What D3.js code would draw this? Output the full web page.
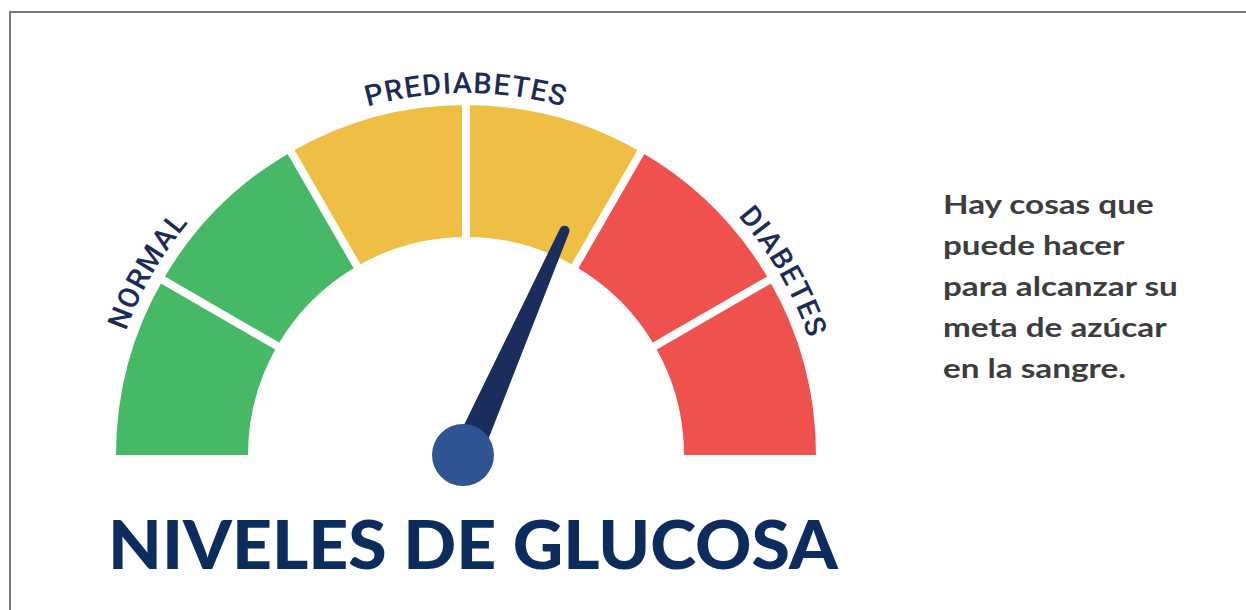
<!DOCTYPE html>
<html>
<head>
<meta charset="utf-8">
<script src="https://cdn.jsdelivr.net/npm/d3@7"></script>
<style>
  html, body { margin: 0; padding: 0; background: #ffffff; }
  svg { display: block; }
</style>
</head>
<body>
<svg id="chart" width="1246" height="610"></svg>
<script>
// ---- data ----
const segments = ["normal1", "normal2", "pre1", "pre2", "diab1", "diab2"];
const segmentColors = ["#47b865", "#47b865", "#efbe44", "#efbe44", "#ef514e", "#ef514e"];
const zoneLabels = ["NORMAL", "PREDIABETES", "DIABETES"];
const zoneCenters = [1, 3, 5];          // in segment units (0..6)
const needleValue = 3.79;               // in segment units (0..6)
const titleText = "NIVELES DE GLUCOSA";
const noteLines = ["Hay cosas que", "puede hacer", "para alcanzar su", "meta de azúcar", "en la sangre."];

// ---- layout ----
const W = 1246, H = 610;
const cx = 466, cy = 455, rOuter = 350, rInner = 218, rLabel = 362;
const svg = d3.select("#chart");

// frame
svg.append("path")
  .attr("d", `M${W},12 L10,12 L10,${H}`)
  .attr("fill", "none").attr("stroke", "#7a7a7a").attr("stroke-width", 2);

const angle = d3.scaleLinear().domain([0, segments.length]).range([-Math.PI / 2, Math.PI / 2]);

const g = svg.append("g").attr("transform", `translate(${cx},${cy})`);
const arc = d3.arc().innerRadius(rInner).outerRadius(rOuter);

g.selectAll("path.seg").data(segments).join("path")
  .attr("class", "seg")
  .attr("d", (d, i) => arc({ startAngle: angle(i), endAngle: angle(i + 1) }))
  .attr("fill", (d, i) => segmentColors[i]);

// white separators between segments
const bounds = d3.range(1, segments.length);
g.selectAll("line.sep").data(bounds).join("line")
  .attr("class", "sep")
  .attr("x1", d => Math.sin(angle(d)) * (rInner - 3))
  .attr("y1", d => -Math.cos(angle(d)) * (rInner - 3))
  .attr("x2", d => Math.sin(angle(d)) * (rOuter + 3))
  .attr("y2", d => -Math.cos(angle(d)) * (rOuter + 3))
  .attr("stroke", "#ffffff").attr("stroke-width", 8);

// label path
g.append("path").attr("id", "labelArc")
  .attr("d", `M${-rLabel},0 A${rLabel},${rLabel} 0 0 1 ${rLabel},0`)
  .attr("fill", "none");

g.selectAll("text.zone").data(zoneLabels).join("text")
  .attr("class", "zone")
  .attr("font-family", "Roboto, 'Noto Sans', sans-serif")
  .attr("font-weight", 500)
  .attr("font-size", 29)
  .attr("letter-spacing", 1.2)
  .attr("fill", "#1c2c58")
  .append("textPath")
  .attr("href", "#labelArc")
  .attr("startOffset", (d, i) => (zoneCenters[i] / segments.length * 100) + "%")
  .attr("text-anchor", "middle")
  .text(d => d);

// needle
const needleAngleDeg = angle(needleValue) * 180 / Math.PI;
const nL = 245, nBase = 15, nTip = 5;
const needle = g.append("g").attr("transform", `rotate(${needleAngleDeg})`);
needle.append("path")
  .attr("d", `M${-nBase},0 L${-nTip},${-nL} A${nTip},${nTip} 0 0 1 ${nTip},${-nL} L${nBase},0 Z`)
  .attr("fill", "#1a2d5c");
g.append("circle").attr("cx", -3).attr("cy", 0).attr("r", 31).attr("fill", "#2f5393");

// title (stretched horizontally to match the wide original face)
const title = svg.append("text")
  .attr("font-family", "Lato, 'Open Sans', sans-serif")
  .attr("font-weight", 900)
  .attr("font-size", 67)
  .attr("fill", "#0c2c5e")
  .text(titleText);
const tw = title.node().getComputedTextLength();
title.attr("transform", `translate(108,569) scale(${730 / tw},1)`);

// note
const noteG = svg.append("g");
const noteTexts = noteG.selectAll("text").data(noteLines).join("text")
  .attr("font-family", "Lato, 'Open Sans', sans-serif")
  .attr("font-weight", 700)
  .attr("font-size", 26)
  .attr("fill", "#3d3d3d")
  .text(d => d);
const refW = noteTexts.nodes()[2].getComputedTextLength();
const ns = 235 / refW;
noteTexts.attr("transform", (d, i) => `translate(943,${214 + i * 41}) scale(${ns},1)`);
</script>
</body>
</html>
